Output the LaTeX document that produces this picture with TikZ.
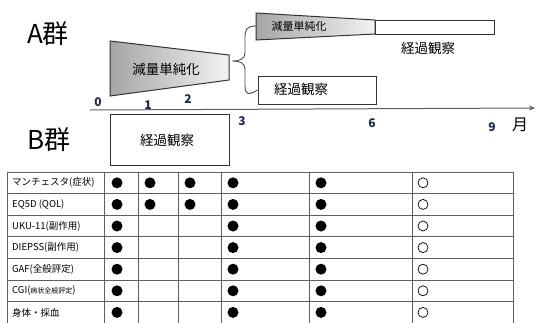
\documentclass[tikz,border=0pt]{standalone}
\usepackage{fontspec}
\setmainfont{Noto Sans CJK JP}
\setsansfont{Noto Sans CJK JP}
\usetikzlibrary{arrows.meta}
\definecolor{navy}{RGB}{30,40,80}
\definecolor{gridc}{RGB}{95,95,95}
\tikzset{
  box/.style={draw=black!80, line width=1pt, fill=white, inner sep=0pt},
  trap/.style={draw=black!80, line width=1pt, left color=black!35, right color=black!5},
  big/.style={font=\fontsize{26}{26}\selectfont},
  lbl/.style={font=\fontsize{13.5}{14}\selectfont},
  tick/.style={font=\fontsize{12}{12}\selectfont\bfseries, text=navy, inner sep=0pt},
  rowlbl/.style={font=\fontsize{9.5}{10}\selectfont, anchor=west, inner sep=0pt},
  dotf/.style={circle, fill=black, minimum size=11pt, inner sep=0pt},
  doto/.style={circle, draw=black, line width=0.7pt, minimum size=10pt, inner sep=0pt},
  gridline/.style={draw=gridc, line width=0.9pt}
}
\begin{document}
\begin{tikzpicture}[x=1pt,y=-1pt]
\useasboundingbox (0,0) rectangle (536,322);
% group labels
\node[big] (ga) at (48,34) {A群};
\node[big] (gb) at (49,140) {B群};
% big trapezoid
\shade[trap] (110,41) -- (229,55) -- (229,80) -- (110,96) -- cycle;
\node[lbl] (redA) at (166,69) {減量単純化};
\coordinate (tip) at (232,61);
% small trapezoid
\shade[trap] (256,13) -- (375,20) -- (375,34) -- (256,40) -- cycle;
\node[font=\fontsize{11}{11}\selectfont] (redB) at (299,26) {減量単純化};
\coordinate (upW) at (256,26);
% upper white box
\node[box, minimum width=119pt, minimum height=14pt] (obsU) at (434.5,27) {};
\node[lbl] (obsUt) at (428,48) {経過観察};
% lower box
\node[box, minimum width=118pt, minimum height=28pt] (obsL) at (317,90) {};
\node[lbl] (obsLt) at (301,89) {経過観察};
% brace
\draw[black!70, line width=0.9pt] (upW) .. controls (246,26) and (245,30) .. (245,38)
  -- (245,53) .. controls (245,59) and (240,61) .. (tip)
  .. controls (240,61) and (245,63) .. (245,69)
  -- (245,86) .. controls (245,94) and (248,96) .. (obsL.west);
% axis
\coordinate (ax0) at (90,110);
\coordinate (ax1) at (535,108);
\draw[gridc, line width=1pt, -{Stealth[length=6pt,width=5pt]}] (ax0) -- (ax1);
\node[tick] (t0) at (98,102) {0};
\node[tick] (t1) at (148,105) {1};
\node[tick] (t2) at (188,99) {2};
\node[tick] (t3) at (242,121) {3};
\node[tick] (t6) at (372,123) {6};
\node[tick] (t9) at (492,127) {9};
\node[font=\fontsize{16}{16}\selectfont, inner sep=0pt] (mon) at (520,125) {月};
% B box
\node[box, minimum width=119pt, minimum height=51pt] (obsB) at (169.5,139.5) {};
\node[lbl] (obsBt) at (167,140) {経過観察};
% table grid
\foreach \x in {7,104,138,178,221,309,412,513}
  \draw[gridline] (\x,172) -- (\x,324);
\foreach \i in {0,...,7}
  \draw[gridline] (7,172+21.6*\i) -- (513,172+21.6*\i);
% row labels
\node[rowlbl] (r1) at (12,182.8) {マンチェスタ(症状)};
\node[rowlbl] (r2) at (12,204.4) {EQ5D (QOL)};
\node[rowlbl] (r3) at (12,226.0) {UKU-11(副作用)};
\node[rowlbl] (r4) at (12,247.6) {DIEPSS(副作用)};
\node[rowlbl] (r5) at (12,269.2) {GAF(全般評定)};
\node[rowlbl] (r6) at (12,290.8) {CGI({\fontsize{7}{7}\selectfont 病状全般評定})};
\node[rowlbl] (r7) at (12,312.4) {身体・採血};
% dots
\foreach \i in {0,1} {
  \foreach \x in {117,150,190,233,321}
    \node[dotf] at (\x,182.8+21.6*\i) {};
}
\foreach \i in {2,...,6} {
  \foreach \x in {117,233,321}
    \node[dotf] at (\x,182.8+21.6*\i) {};
}
\foreach \i in {0,...,6}
  \node[doto] at (423,182.8+21.6*\i) {};
\end{tikzpicture}
\end{document}
